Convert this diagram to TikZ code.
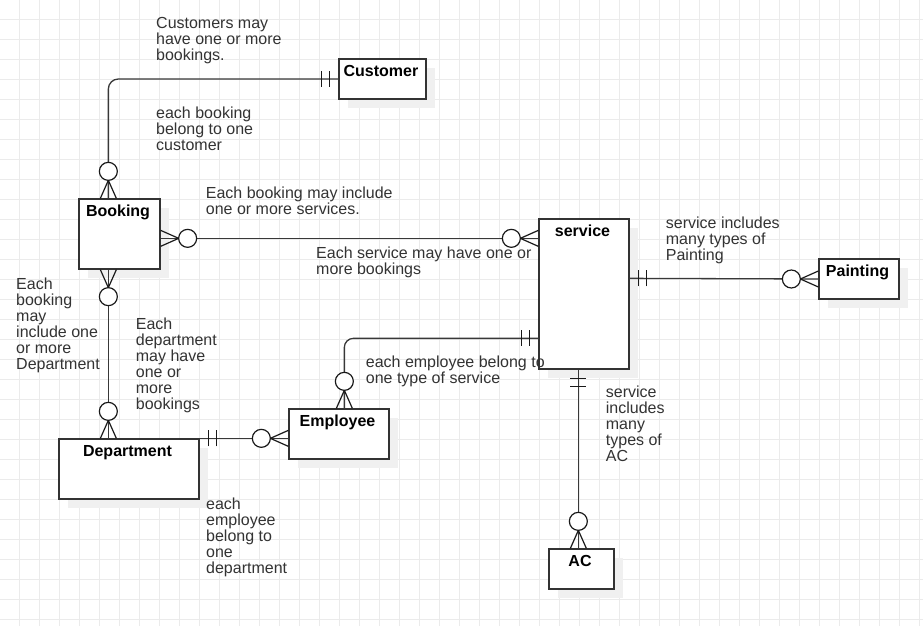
\documentclass[tikz,border=0pt]{standalone}
\usepackage{fontspec}
\setmainfont{Liberation Sans}
\usetikzlibrary{calc,shadows}
\newcommand\erzm[3]{%
  \draw[ermark] ($(#1)+({-(#3)*8},{(#2)*8})$) -- ($(#1)+({(#2)*18},{(#3)*18})$) -- ($(#1)+({(#3)*8},{-(#2)*8})$);
  \draw[ermark,fill=white] ($(#1)+({(#2)*27},{(#3)*27})$) circle[radius=9pt];
}
\newcommand\ermo[3]{%
  \foreach \tk in {9,17}{
    \draw[ermark] ($(#1)+({(#2)*\tk-(#3)*8},{(#3)*\tk+(#2)*8})$) -- ($(#1)+({(#2)*\tk+(#3)*8},{(#3)*\tk-(#2)*8})$);
  }
}
\begin{document}
\begin{tikzpicture}[x=1pt,y=-1pt,
  gridline/.style={draw=black!8, line width=1pt},
  entity/.style={draw=black!80, line width=1.3pt, fill=white, inner sep=0pt, rectangle,
    drop shadow={shadow xshift=9pt, shadow yshift=-9pt, fill=black!6, draw=none, opacity=1}},
  conn/.style={draw=black!78, line width=1.3pt},
  ermark/.style={draw=black!90, line width=1.2pt},
  note/.style={anchor=base west, inner sep=0pt, align=left, text=black!80, font=\fontsize{16}{16}\selectfont},
  elabel/.style={font=\bfseries\fontsize{16}{16}\selectfont, text=black, anchor=base, inner sep=0pt, yshift=-18.4pt, xshift=-1.5pt}
]
\useasboundingbox (0,0) rectangle (923,626);
\fill[white] (0,0) rectangle (923,626);
% grid
\foreach \i in {1,...,46} \draw[gridline] (\i*20-0.5,0) -- (\i*20-0.5,626);
\foreach \j in {1,...,31} \draw[gridline] (0,\j*20-0.5) -- (923,\j*20-0.5);

% entities
\node[entity, minimum width=87pt, minimum height=40pt, label={[elabel]north:Customer}] (customer) at (382.5,79) {};
\node[entity, minimum width=81pt, minimum height=70pt, label={[elabel]north:Booking}] (booking) at (119.5,234) {};
\node[entity, minimum width=90pt, minimum height=150pt, label={[elabel]north:service}] (service) at (584,294) {};
\node[entity, minimum width=80pt, minimum height=40pt, label={[elabel]north:Painting}] (painting) at (859,279) {};
\node[entity, minimum width=65pt, minimum height=40pt, label={[elabel]north:AC}] (ac) at (581.5,569) {};
\node[entity, minimum width=140pt, minimum height=60pt, label={[elabel]north:Department}] (department) at (129,469) {};
\node[entity, minimum width=100pt, minimum height=50pt, label={[elabel]north:Employee}] (employee) at (339,434) {};

% connector end points
\coordinate (cb) at ([xshift=30pt]booking.north west);
\coordinate (bs1) at ([yshift=-40pt]booking.north east);
\coordinate (bs2) at ([yshift=-20pt]service.north west);
\coordinate (bd1) at ([xshift=30pt]booking.south west);
\coordinate (bd2) at ([xshift=50pt]department.north west);
\coordinate (de2) at ([yshift=-30pt]employee.north west);
\coordinate (es1) at ([xshift=56pt]employee.north west);
\coordinate (es2) at ([yshift=-120pt]service.north west);
\coordinate (sp1) at ([yshift=-60pt]service.north east);
\coordinate (sa1) at ([xshift=40pt]service.south west);
\coordinate (sa2) at ([xshift=30pt]ac.north west);

% connectors
\draw[conn, rounded corners=10pt] (customer.west) -| (cb);
\draw[conn] (bs1) -- (bs2);
\draw[conn] (bd1) -- (bd2);
\draw[conn] (department.north east) -- (de2);
\draw[conn, rounded corners=9pt] (es1) |- (es2);
\draw[conn] (sp1) -- (painting.west);
\draw[conn] (sa1) -- (sa2);

% cardinality marks
\ermo{customer.west}{-1}{0}
\erzm{cb}{0}{-1}
\erzm{bs1}{1}{0}
\erzm{bs2}{-1}{0}
\erzm{bd1}{0}{1}
\erzm{bd2}{0}{-1}
\ermo{department.north east}{1}{0}
\erzm{de2}{-1}{0}
\erzm{es1}{0}{-1}
\ermo{es2}{-1}{0}
\ermo{sp1}{1}{0}
\erzm{painting.west}{-1}{0}
\ermo{sa1}{0}{1}
\erzm{sa2}{0}{-1}

% notes (anchored at the baseline of the last line)
\node[note] (t1) at (156,60.5) {Customers may\\have one or more\\bookings.};
\node[note] (t2) at (156,150) {each booking\\belong to one\\customer};
\node[note] (t3) at (205.7,214.4) {Each booking may include\\one or more services.};
\node[note] (t4) at (316,274.4) {Each service may have one or\\more bookings};
\node[note] (t5) at (665.7,260.4) {service includes\\many types of\\Painting};
\node[note] (t6) at (365.7,383.4) {each employee belong to\\one type of service};
\node[note] (t7) at (16,369) {Each\\booking\\may\\include one\\or more\\Department};
\node[note] (t8) at (135.7,409) {Each\\department\\may have\\one or\\more\\bookings};
\node[note] (t9) at (206,573) {each\\employee\\belong to\\one\\department};
\node[note] (t10) at (605.7,461.5) {service\\includes\\many\\types of\\AC};
\end{tikzpicture}
\end{document}
